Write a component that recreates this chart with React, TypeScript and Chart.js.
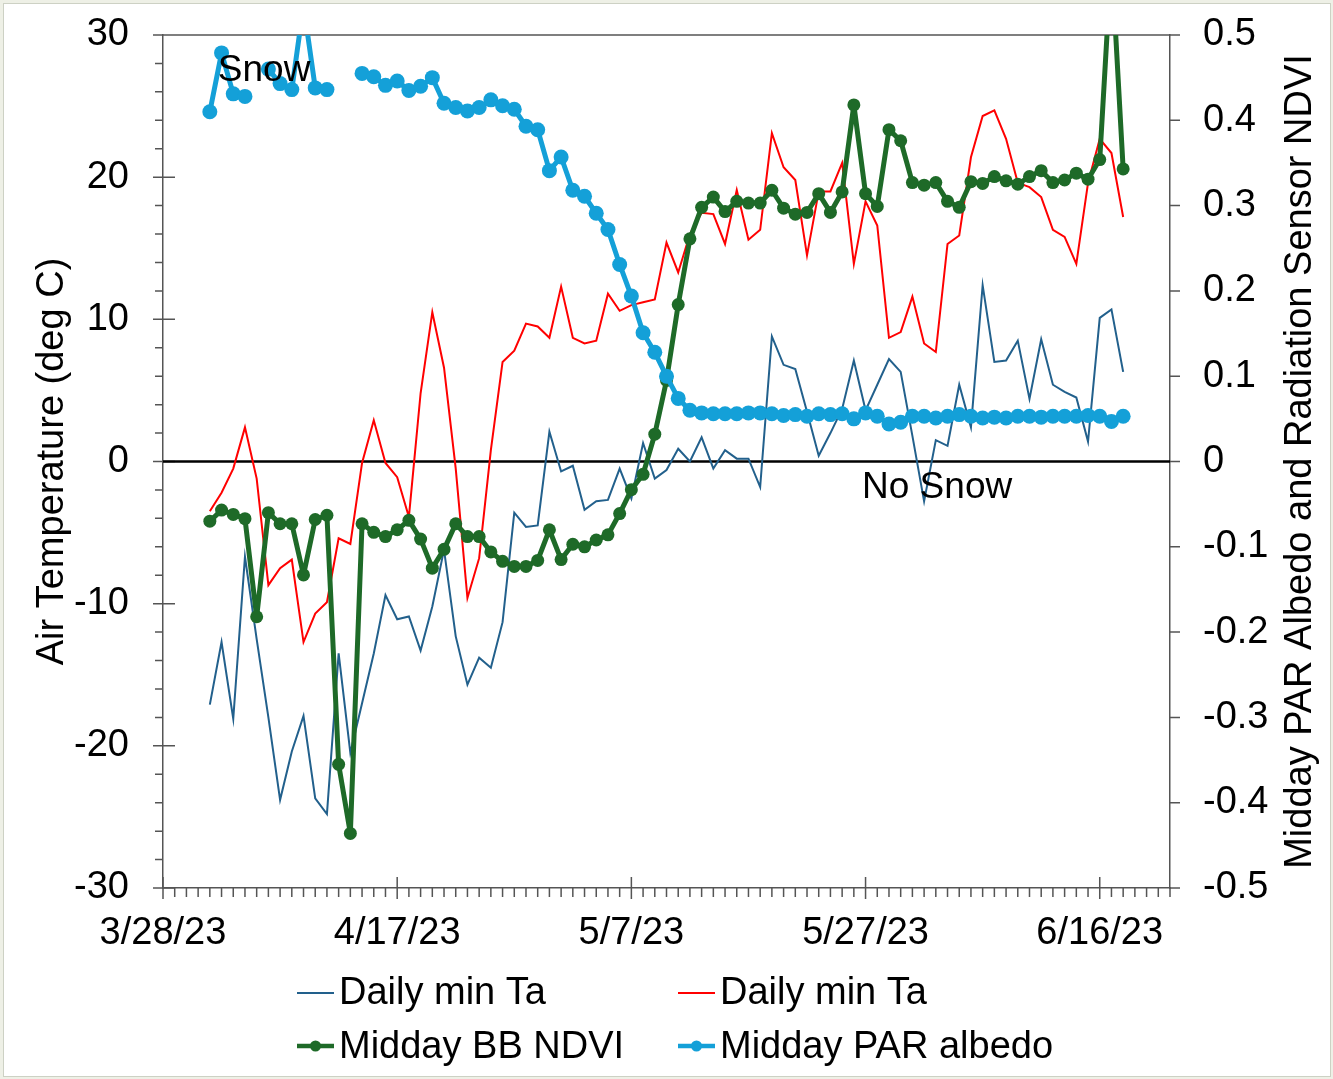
import { useEffect, useRef } from 'react';
import { Chart, registerables } from 'chart.js';

Chart.register(...registerables);

// ---- Data (x = days after 3/28/23; first record = 4/1/23) ----
const FIRST_DAY = 4;
const X_MIN = 0;
const X_MAX = 86;
const X_TICK_DAYS = [0, 20, 40, 60, 80];
const X_TICK_LABELS = ['3/28/23', '4/17/23', '5/7/23', '5/27/23', '6/16/23'];
const LEFT_TICKS = [-30, -20, -10, 0, 10, 20, 30];
const LEFT_TICK_LABELS = ['-30', '-20', '-10', '0', '10', '20', '30'];
const RIGHT_TICKS = [-0.5, -0.4, -0.3, -0.2, -0.1, 0, 0.1, 0.2, 0.3, 0.4, 0.5];
const RIGHT_TICK_LABELS = ['-0.5', '-0.4', '-0.3', '-0.2', '-0.1', '0', '0.1', '0.2', '0.3', '0.4', '0.5'];

const SERIES_NAMES = ['Daily min Ta', 'Daily min Ta', 'Midday BB NDVI', 'Midday PAR albedo'];
const LEFT_TITLE = 'Air Temperature (deg C)';
const RIGHT_TITLE = 'Midday PAR Albedo and Radiation Sensor NDVI';
const NOTE_SNOW = 'Snow';
const NOTE_NO_SNOW = 'No Snow';

// Daily minimum air temperature (deg C)
const TMIN = [
  -17.1, -12.7, -18.1, -6.7, -12.5, -18.0, -23.8, -20.4, -17.9, -23.7,
  -24.8, -13.5, -20.5, -17.0, -13.5, -9.4, -11.1, -10.9, -13.3, -10.2,
  -6.2, -12.3, -15.7, -13.8, -14.5, -11.3, -3.6, -4.6, -4.5, 2.1,
  -0.7, -0.3, -3.4, -2.8, -2.7, -0.5, -2.6, 1.3, -1.2, -0.6,
  0.9, 0.0, 1.7, -0.5, 0.8, 0.2, 0.2, -1.8, 8.8, 6.8,
  6.5, 3.5, 0.4, 2.0, 3.7, 7.1, 3.6, 5.4, 7.2, 6.3,
  1.8, -2.8, 1.5, 1.1, 5.4, 2.4, 12.4, 7.0, 7.1, 8.5,
  4.4, 8.6, 5.4, 4.9, 4.5, 1.4, 10.1, 10.7, 6.3,
];

// Second air temperature series (red)
const TMAX = [
  -3.5, -2.2, -0.5, 2.4, -1.2, -8.7, -7.5, -6.9, -12.7, -10.7,
  -9.9, -5.4, -5.8, -0.1, 2.9, -0.1, -1.1, -3.9, 4.8, 10.5,
  6.6, -0.5, -9.6, -6.8, 0.8, 7.0, 7.8, 9.7, 9.5, 8.7,
  12.3, 8.7, 8.3, 8.5, 11.8, 10.6, 11.0, 11.2, 11.4, 15.4,
  13.3, 16.0, 17.5, 17.4, 15.3, 19.1, 15.6, 16.3, 23.1, 20.7,
  19.8, 14.5, 19.0, 19.0, 21.0, 13.9, 18.3, 16.6, 8.7, 9.1,
  11.6, 8.3, 7.7, 15.3, 15.9, 21.4, 24.3, 24.7, 22.7, 19.6,
  19.3, 18.6, 16.3, 15.8, 13.9, 19.6, 22.7, 21.7, 17.2,
];

// Midday broadband NDVI (right axis)
const NDVI = [
  -0.070, -0.057, -0.062, -0.067, -0.182, -0.060, -0.073, -0.073, -0.133, -0.068,
  -0.063, -0.355, -0.436, -0.073, -0.083, -0.088, -0.080, -0.069, -0.091, -0.125,
  -0.103, -0.073, -0.088, -0.088, -0.106, -0.117, -0.123, -0.123, -0.116, -0.080,
  -0.115, -0.097, -0.100, -0.092, -0.086, -0.061, -0.033, -0.015, 0.032, 0.095,
  0.184, 0.261, 0.298, 0.310, 0.293, 0.305, 0.303, 0.303, 0.318, 0.297,
  0.290, 0.292, 0.314, 0.292, 0.316, 0.418, 0.314, 0.299, 0.389, 0.376,
  0.327, 0.324, 0.327, 0.305, 0.298, 0.328, 0.326, 0.334, 0.329, 0.325,
  0.334, 0.341, 0.327, 0.330, 0.338, 0.331, 0.354, 0.590, 0.343,
];

// Midday PAR albedo (right axis); null = missing day
const ALBEDO = [
  0.410, 0.479, 0.431, 0.428, null, 0.460, 0.443, 0.436, 0.535, 0.438,
  0.436, null, null, 0.455, 0.451, 0.441, 0.446, 0.435, 0.440, 0.450,
  0.420, 0.415, 0.411, 0.415, 0.424, 0.417, 0.413, 0.393, 0.389, 0.341,
  0.357, 0.318, 0.311, 0.291, 0.272, 0.231, 0.194, 0.151, 0.128, 0.100,
  0.074, 0.060, 0.057, 0.056, 0.056, 0.056, 0.057, 0.057, 0.056, 0.054,
  0.055, 0.053, 0.056, 0.055, 0.056, 0.050, 0.057, 0.053, 0.044, 0.046,
  0.053, 0.053, 0.051, 0.053, 0.055, 0.053, 0.051, 0.052, 0.051, 0.053,
  0.053, 0.052, 0.053, 0.053, 0.053, 0.054, 0.053, 0.047, 0.053,
];

// ---- Styling ----
const FONT = "'Liberation Sans', Arial, Helvetica, sans-serif";
const AXIS_COLOR = '#555555';
const C_TMIN = '#22608c';
const C_TMAX = '#ff0000';
const C_NDVI = '#1e6a28';
const C_ALB = '#14a0d8';
const W = 1333;
const H = 1079;

const toPoints = (arr: (number | null)[]) => arr.map((v, i) => ({ x: FIRST_DAY + i, y: v }));

const zeroPad = (s: any) => {
  s.paddingTop = 0;
  s.paddingBottom = 0;
  s.paddingLeft = 0;
  s.paddingRight = 0;
};

const decorPlugin = {
  id: 'decor',
  beforeDatasetsDraw(chart: any) {
    const { ctx, chartArea: a, scales } = chart;
    const xs = scales.x;
    const ys = scales.y;
    const y1 = scales.y1;
    ctx.save();
    ctx.strokeStyle = AXIS_COLOR;
    ctx.lineWidth = 1.5;
    ctx.beginPath();
    ctx.moveTo(a.left, a.top);
    ctx.lineTo(a.right, a.top);
    for (let d = X_MIN; d <= X_MAX; d++) {
      const px = xs.getPixelForValue(d);
      const major = d % 20 === 0;
      ctx.moveTo(px, major ? a.bottom - 11 : a.bottom);
      ctx.lineTo(px, a.bottom + (major ? 11 : 9));
    }
    for (let v = -30; v <= 30; v += 2) {
      const py = ys.getPixelForValue(v);
      const major = v % 10 === 0;
      ctx.moveTo(a.left - (major ? 10 : 8), py);
      ctx.lineTo(a.left + (major ? 12 : 0), py);
    }
    for (const v of RIGHT_TICKS) {
      const py = y1.getPixelForValue(v);
      ctx.moveTo(a.right, py);
      ctx.lineTo(a.right + 10, py);
    }
    ctx.stroke();
    const zy = ys.getPixelForValue(0);
    ctx.strokeStyle = '#000000';
    ctx.lineWidth = 2.5;
    ctx.beginPath();
    ctx.moveTo(a.left, zy);
    ctx.lineTo(a.right, zy);
    ctx.stroke();
    ctx.restore();
  },
  afterDraw(chart: any) {
    const { ctx, chartArea: a, scales } = chart;
    const xs = scales.x;
    const ys = scales.y;
    ctx.save();
    ctx.fillStyle = '#000000';
    ctx.font = `38px ${FONT}`;
    ctx.textBaseline = 'alphabetic';

    // axis titles (both read bottom-to-top)
    const midY = (a.top + a.bottom) / 2;
    ctx.textAlign = 'center';
    ctx.save();
    ctx.translate(63, midY);
    ctx.rotate(-Math.PI / 2);
    ctx.fillText(LEFT_TITLE, 0, 0);
    ctx.restore();
    ctx.save();
    ctx.translate(1311, midY);
    ctx.rotate(-Math.PI / 2);
    ctx.fillText(RIGHT_TITLE, 0, 0);
    ctx.restore();

    // notes
    ctx.font = `37px ${FONT}`;
    ctx.textAlign = 'left';
    ctx.fillText(NOTE_SNOW, xs.getPixelForValue(4.68), ys.getPixelForValue(26.75));
    ctx.fillText(NOTE_NO_SNOW, xs.getPixelForValue(59.7), ys.getPixelForValue(-2.58));

    // legend
    const items = [
      { i: 0, lx: 297, ly: 993, tx: 339, ty: 1004 },
      { i: 1, lx: 678, ly: 993, tx: 720, ty: 1004 },
      { i: 2, lx: 297, ly: 1046, tx: 339, ty: 1058 },
      { i: 3, lx: 678, ly: 1046, tx: 720, ty: 1058 },
    ];
    ctx.font = `38px ${FONT}`;
    for (const it of items) {
      const ds = chart.data.datasets[it.i];
      ctx.strokeStyle = ds.borderColor;
      ctx.lineWidth = Math.min(ds.borderWidth, 4.5);
      ctx.beginPath();
      ctx.moveTo(it.lx, it.ly);
      ctx.lineTo(it.lx + 37, it.ly);
      ctx.stroke();
      if (ds.pointRadius > 0) {
        ctx.fillStyle = ds.borderColor;
        ctx.beginPath();
        ctx.arc(it.lx + 18.5, it.ly, 5.5, 0, Math.PI * 2);
        ctx.fill();
      }
      ctx.fillStyle = '#000000';
      ctx.fillText(SERIES_NAMES[it.i], it.tx, it.ty);
    }
    ctx.restore();
  },
};

export default function App() {
  const canvasRef = useRef<HTMLCanvasElement | null>(null);

  useEffect(() => {
    const canvas = canvasRef.current;
    if (!canvas) return;
    const tickFont = { family: FONT, size: 38 };
    const chart = new Chart(canvas, {
      type: 'line',
      data: {
        datasets: [
          {
            label: SERIES_NAMES[0],
            data: toPoints(TMIN),
            yAxisID: 'y',
            borderColor: C_TMIN,
            backgroundColor: C_TMIN,
            borderWidth: 2,
            pointRadius: 0,
            order: 4,
          },
          {
            label: SERIES_NAMES[1],
            data: toPoints(TMAX),
            yAxisID: 'y',
            borderColor: C_TMAX,
            backgroundColor: C_TMAX,
            borderWidth: 2,
            pointRadius: 0,
            order: 3,
          },
          {
            label: SERIES_NAMES[2],
            data: toPoints(NDVI),
            yAxisID: 'y1',
            borderColor: C_NDVI,
            backgroundColor: C_NDVI,
            borderWidth: 5,
            borderJoinStyle: 'round',
            borderCapStyle: 'round',
            pointRadius: 6.5,
            pointBorderWidth: 0,
            pointBackgroundColor: C_NDVI,
            order: 2,
          },
          {
            label: SERIES_NAMES[3],
            data: toPoints(ALBEDO),
            yAxisID: 'y1',
            borderColor: C_ALB,
            backgroundColor: C_ALB,
            borderWidth: 5,
            borderJoinStyle: 'round',
            borderCapStyle: 'round',
            pointRadius: 7.5,
            pointBorderWidth: 0,
            pointBackgroundColor: C_ALB,
            spanGaps: false,
            order: 1,
          },
        ] as any,
      },
      options: {
        responsive: false,
        animation: false,
        devicePixelRatio: 1,
        events: [],
        layout: { padding: { top: 35, left: 0, right: 0, bottom: 0 } },
        plugins: {
          legend: { display: false },
          tooltip: { enabled: false },
        },
        scales: {
          x: {
            type: 'linear',
            min: X_MIN,
            max: X_MAX,
            grid: { display: false, drawTicks: false, tickLength: 0 },
            border: { display: true, color: AXIS_COLOR, width: 1.5 },
            ticks: {
              font: tickFont,
              color: '#000000',
              padding: 23,
              autoSkip: false,
              maxRotation: 0,
              minRotation: 0,
              callback: (v: any) => {
                const k = X_TICK_DAYS.indexOf(Number(v));
                return k >= 0 ? X_TICK_LABELS[k] : '';
              },
            },
            afterBuildTicks: (s: any) => {
              s.ticks = X_TICK_DAYS.map((v) => ({ value: v }));
            },
            afterFit: (s: any) => {
              s.height = H - 888;
              zeroPad(s);
            },
          },
          y: {
            type: 'linear',
            position: 'left',
            min: -30,
            max: 30,
            grid: { display: false, drawTicks: false, tickLength: 0 },
            border: { display: true, color: AXIS_COLOR, width: 1.5 },
            ticks: {
              font: tickFont,
              color: '#000000',
              padding: 34,
              callback: (v: any) => {
                const k = LEFT_TICKS.indexOf(Number(v));
                return k >= 0 ? LEFT_TICK_LABELS[k] : '';
              },
            },
            afterBuildTicks: (s: any) => {
              s.ticks = LEFT_TICKS.map((v) => ({ value: v }));
            },
            afterFit: (s: any) => {
              s.width = 163;
              zeroPad(s);
            },
          },
          y1: {
            type: 'linear',
            position: 'right',
            min: -0.5,
            max: 0.5,
            grid: { display: false, drawTicks: false, tickLength: 0 },
            border: { display: true, color: AXIS_COLOR, width: 1.5 },
            ticks: {
              font: tickFont,
              color: '#000000',
              padding: 33,
              callback: (v: any) => {
                const k = RIGHT_TICKS.findIndex((t) => Math.abs(t - Number(v)) < 1e-6);
                return k >= 0 ? RIGHT_TICK_LABELS[k] : '';
              },
            },
            afterBuildTicks: (s: any) => {
              s.ticks = RIGHT_TICKS.map((v) => ({ value: v }));
            },
            afterFit: (s: any) => {
              s.width = W - 1170;
              zeroPad(s);
            },
          },
        },
      } as any,
      plugins: [decorPlugin],
    });
    return () => chart.destroy();
  }, []);

  return (
    <div
      style={{
        position: 'absolute',
        left: 0,
        top: 0,
        width: W,
        height: H,
        background: '#eef0e6',
        overflow: 'hidden',
      }}
    >
      <div
        style={{
          position: 'absolute',
          left: 3,
          top: 3,
          width: W - 7,
          height: H - 7,
          background: '#ffffff',
          border: '1px solid #cdd1c4',
        }}
      />
      <canvas
        ref={canvasRef}
        width={W}
        height={H}
        style={{ position: 'absolute', left: 0, top: 0, width: W, height: H }}
      />
    </div>
  );
}
